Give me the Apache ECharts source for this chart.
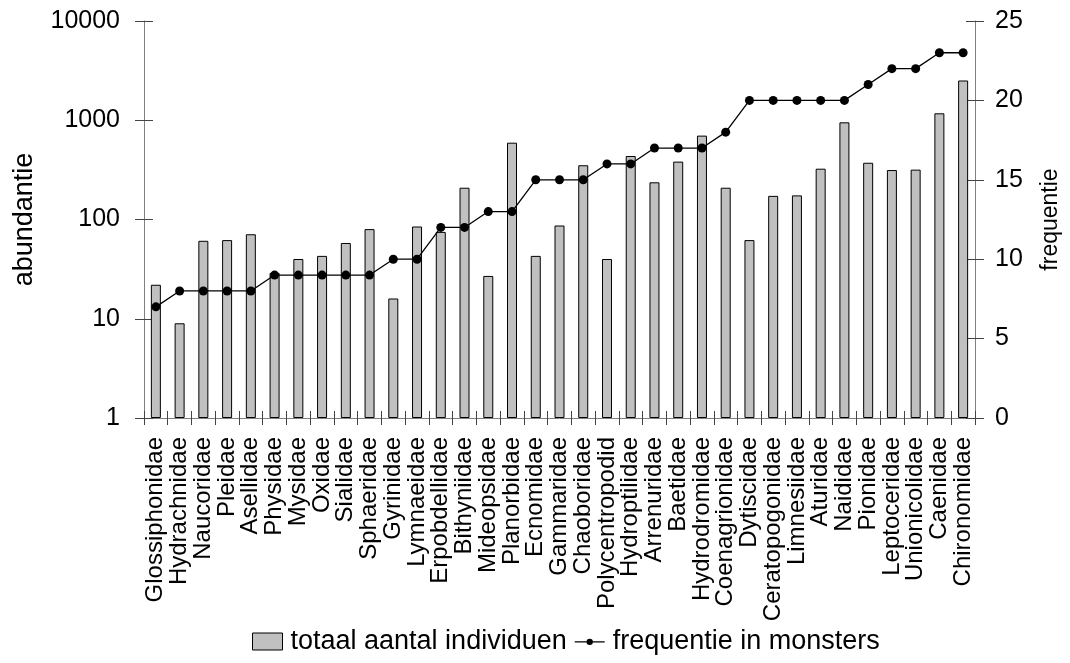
<!DOCTYPE html>
<html>
<head>
<meta charset="utf-8">
<script src="https://cdn.jsdelivr.net/npm/echarts@6/dist/echarts.min.js"></script>
<style>html,body{margin:0;padding:0;background:#fff;}#c{width:1070px;height:663px;}</style>
</head>
<body>
<div id="c"></div>
<script>
const categories = ["Glossiphonidae","Hydrachnidae","Naucoridae","Pleidae","Asellidae","Physidae","Mysidae","Oxidae","Sialidae","Sphaeridae","Gyrinidae","Lymnaeidae","Erpobdellidae","Bithyniidae","Mideopsidae","Planorbidae","Ecnomidae","Gammaridae","Chaoboridae","Polycentropodid","Hydroptilidae","Arrenuridae","Baetidae","Hydrodromidae","Coenagrionidae","Dytiscidae","Ceratopogonidae","Limnesiidae","Aturidae","Naididae","Pionidae","Leptoceridae","Unionicolidae","Caenidae","Chironomidae"];
const abundance = [22,9,61,62,71,29,40,43,58,80,16,85,75,209,27,594,43,87,352,40,436,237,383,700,209,62,173,175,325,953,373,315,318,1175,2515];
const frequency = [7,8,8,8,8,9,9,9,9,9,10,10,12,12,13,13,15,15,15,16,16,17,17,17,18,20,20,20,20,20,21,22,22,23,23];
const leftTicks = [1,10,100,1000,10000];
const rightTicks = [0,5,10,15,20,25];

const FONT = 'Liberation Sans, Arial, sans-serif';
const LINE = '#808080';
const TICK = '#444';
const chart = echarts.init(document.getElementById('c'));
function yBase(extra){ return Object.assign({
  axisLine:{show:true,lineStyle:{color:LINE,width:1}},
  splitLine:{show:false},
  axisTick:{show:true,length:9,lineStyle:{color:TICK,width:1}},
}, extra); }
const lineIcon = 'path://M0,0 Z M33,17 Z M0,8.2 L33,8.2 L33,9.6 L0,9.6 Z M20,8.9 A3.5,3.5 0 1 1 13,8.9 A3.5,3.5 0 1 1 20,8.9 Z';
chart.setOption({
  animation:false,
  backgroundColor:'#fff',
  textStyle:{fontFamily:FONT},
  grid:{left:144,right:93,top:21,bottom:245,containLabel:false},
  legend:{
    bottom:3, left:247, itemGap:8, itemWidth:30, itemHeight:17,
    textStyle:{fontFamily:FONT,fontSize:27,color:'#000',padding:[0,0,0,3]},
    data:[{name:'totaal aantal individuen',icon:'rect',itemStyle:{color:'#c0c0c0',borderColor:'#000',borderWidth:1}},
          {name:'frequentie in monsters',icon:lineIcon,itemStyle:{color:'#000',borderWidth:0}}]
  },
  xAxis:[
    {type:'category',data:categories,boundaryGap:true,
     axisLine:{show:true,lineStyle:{color:LINE}},
     axisTick:{show:true,interval:0,length:7,lineStyle:{color:TICK}},
     axisLabel:{interval:0,rotate:90,margin:19,fontSize:24,color:'#000',fontFamily:FONT},
     splitLine:{show:false}},
    {type:'category',data:categories,boundaryGap:true,position:'bottom',
     axisLine:{show:false},
     axisTick:{show:true,inside:true,interval:0,length:7,lineStyle:{color:TICK}},
     axisLabel:{show:false},splitLine:{show:false}}
  ],
  yAxis:[
    yBase({type:'log',logBase:10,min:leftTicks[0],max:leftTicks[leftTicks.length-1],position:'left',
      name:'abundantie',nameLocation:'middle',nameGap:106,nameTextStyle:{fontSize:27,color:'#000',fontFamily:FONT},
      axisLabel:{margin:24,fontSize:25,color:'#000',fontFamily:FONT,formatter:function(v){return String(Math.round(v));}}}),
    yBase({type:'value',min:rightTicks[0],max:rightTicks[rightTicks.length-1],interval:5,position:'right',
      name:'frequentie',nameLocation:'middle',nameGap:64,nameTextStyle:{fontSize:23,color:'#000',fontFamily:FONT},
      axisLabel:{margin:20,fontSize:25,color:'#000',fontFamily:FONT}}),
    yBase({type:'log',logBase:10,min:leftTicks[0],max:leftTicks[leftTicks.length-1],position:'left',offset:0,
      axisLine:{show:false},axisTick:{show:true,inside:true,length:9,lineStyle:{color:TICK}},axisLabel:{show:false}}),
    yBase({type:'value',min:rightTicks[0],max:rightTicks[rightTicks.length-1],interval:5,position:'right',offset:0,
      axisLine:{show:false},axisTick:{show:true,inside:true,length:9,lineStyle:{color:TICK}},axisLabel:{show:false}})
  ],
  series:[
    {name:'totaal aantal individuen',type:'bar',xAxisIndex:0,yAxisIndex:0,data:abundance,barWidth:10,
     itemStyle:{color:'#c0c0c0',borderColor:'#000',borderWidth:1}},
    {name:'frequentie in monsters',type:'line',xAxisIndex:0,yAxisIndex:1,data:frequency,
     symbol:'circle',symbolSize:9,lineStyle:{color:'#000',width:1.3},itemStyle:{color:'#000'}}
  ]
});
</script>
</body>
</html>
